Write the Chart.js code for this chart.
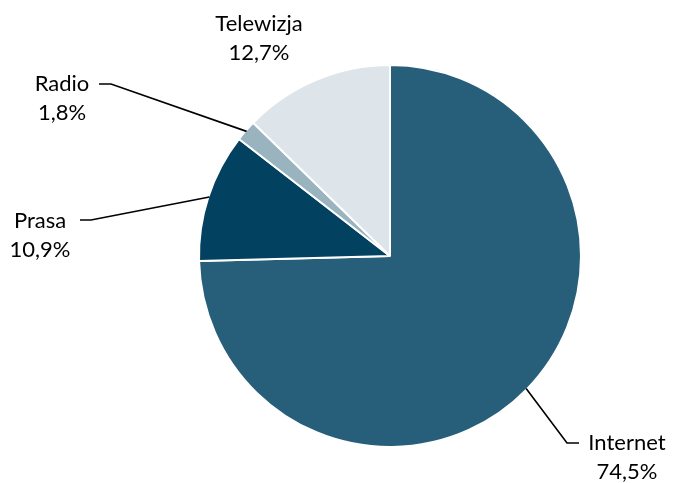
<!DOCTYPE html>
<html>
<head>
<meta charset="utf-8">
<script src="https://cdn.jsdelivr.net/npm/chart.js@4"></script>
<style>
  html, body { margin: 0; padding: 0; background: #ffffff; }
  #wrap { width: 673px; height: 483px; position: relative; }
</style>
</head>
<body>
<div id="wrap"><canvas id="chart" width="673" height="483"></canvas></div>
<script>
// Udział w rynku reklamy według mediów
const categories = ['Internet', 'Prasa', 'Radio', 'Telewizja'];
const shares = [74.5, 10.9, 1.8, 12.7];
const valueLabels = ['74,5%', '10,9%', '1,8%', '12,7%'];
const sliceColors = ['#275F7B', '#034161', '#99B3BF', '#DEE5EA'];

// Label placement: text centre x, first-line baseline y, and optional leader elbow
const labelLayout = [
  { x: 627, y: 450, elbow: { x: 567, y: 443 }, end: { x: 579, y: 443 } },
  { x: 40, y: 228, elbow: { x: 91, y: 220 }, end: { x: 80, y: 220 } },
  { x: 62, y: 91, elbow: { x: 111, y: 84 }, end: { x: 99, y: 84 } },
  { x: 259, y: 31, elbow: null, end: null }
];

const FONT = '22px Lato, "Open Sans", sans-serif';

const pieLabels = {
  id: 'pieLabels',
  afterDatasetsDraw(chart) {
    const ctx = chart.ctx;
    const arcs = chart.getDatasetMeta(0).data;
    ctx.save();
    arcs.forEach((arc, i) => {
      const lay = labelLayout[i];
      if (lay.elbow) {
        const mid = (arc.startAngle + arc.endAngle) / 2;
        const r = arc.outerRadius - 1;
        const sx = arc.x + Math.cos(mid) * r;
        const sy = arc.y + Math.sin(mid) * r;
        ctx.beginPath();
        ctx.moveTo(sx, sy);
        ctx.lineTo(lay.elbow.x, lay.elbow.y);
        ctx.lineTo(lay.end.x, lay.end.y);
        ctx.strokeStyle = '#000000';
        ctx.lineWidth = 1.6;
        ctx.stroke();
      }
      ctx.fillStyle = '#000000';
      ctx.font = FONT;
      ctx.textAlign = 'center';
      ctx.textBaseline = 'alphabetic';
      ctx.fillText(categories[i], lay.x, lay.y);
      ctx.fillText(valueLabels[i], lay.x, lay.y + 29);
    });
    ctx.restore();
  }
};

new Chart(document.getElementById('chart'), {
  type: 'pie',
  data: {
    labels: categories,
    datasets: [{
      data: shares,
      backgroundColor: sliceColors,
      borderColor: '#ffffff',
      borderWidth: 2
    }]
  },
  options: {
    responsive: false,
    animation: false,
    rotation: 0,
    layout: { padding: { top: 64, bottom: 35, left: 198, right: 91 } },
    plugins: {
      legend: { display: false },
      tooltip: { enabled: false }
    }
  },
  plugins: [pieLabels]
});
</script>
</body>
</html>
